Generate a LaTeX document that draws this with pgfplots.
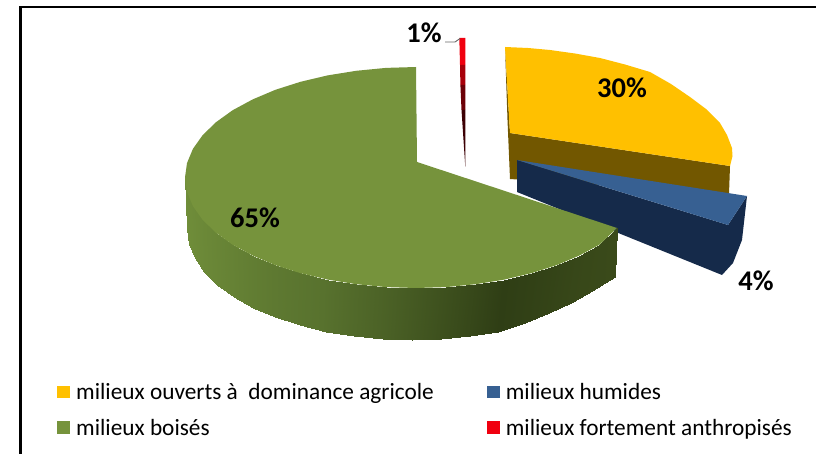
\documentclass[border=0pt]{standalone}
\usepackage{fontspec}
\setmainfont{Carlito}
\usepackage{pgfplots}
\pgfplotsset{compat=1.18}

\definecolor{yellowtop}{HTML}{FFC000}
\definecolor{yellowside}{HTML}{725700}
\definecolor{bluetop}{HTML}{376092}
\definecolor{blueside}{HTML}{152A4A}
\definecolor{greentop}{HTML}{76933C}
\definecolor{redtop}{HTML}{F0000F}

\begin{document}
\begin{tikzpicture}
\path[use as bounding box] (0,0) rectangle (816pt,454pt);
\begin{axis}[
    at={(0,0)}, anchor=south west,
    width=816pt, height=454pt,
    scale only axis,
    xmin=0, xmax=816,
    ymin=0, ymax=454,
    y dir=reverse,
    axis lines=none,
    clip=true,
    colormap={greenside}{rgb255(0pt)=(112,142,58) rgb255(45pt)=(88,114,46) rgb255(80pt)=(47,62,21) rgb255(100pt)=(58,74,26)},
    point meta min=0, point meta max=1,
    legend columns=2,
    legend cell align=left,
    legend style={
        at={(axis cs:57,382)}, anchor=north west,
        draw=none, fill=none,
        font=\fontsize{23.3}{26}\selectfont,
        inner sep=0pt,
        row sep=16pt,
        /tikz/column 2/.style={column sep=52pt},
        nodes={inner xsep=1pt, inner ysep=1pt},
    },
    legend image code/.code={
        \fill[#1] (0pt,-6pt) rectangle (13pt,6.5pt);
        \path (18pt,0pt);
    },
]

% yellow slice
\addplot[fill=yellowside, draw=none, forget plot] coordinates {
    (505,47)(510,133)(730,166)(729,194)(510,179)(507.5,120)
} -- cycle;
\addplot[fill=yellowtop, draw=none] coordinates {
    (505,47)(528,48)(550,50)(575,53.5)(600,58)(625,64.5)(650,72)(671,84)(690,97)(706,109)(720,123)(727,135)(732,148)(732.5,156)(730,166)(510,133)
} -- cycle;
\addlegendentry{milieux ouverts à \ dominance agricole}

% blue slice
\addplot[fill=blueside, draw=none, forget plot] coordinates {
    (517,160)(728,225)(747,196)(742,240)(733,263)(722,275)(517,192)
} -- cycle;
\addplot[fill=bluetop, draw=none] coordinates {
    (517,160)(747,196)(728,225)
} -- cycle;
\addlegendentry{milieux humides}

% green slice, side first
\addplot[surf, shader=interp, mesh/rows=2, point meta=explicit, forget plot]
    table[x=x, y=y, meta=c] {
x y c
185 177.5 0.00
187 191.9 0.02
192.9 206.1 0.05
202.6 219.8 0.09
216 232.8 0.14
232.7 244.8 0.20
252.7 255.6 0.27
275.4 265.2 0.34
300.5 273.2 0.40
327.6 279.6 0.46
356.2 284.2 0.51
385.9 287.1 0.56
416 288 0.62
446.1 287.1 0.68
475.8 284.2 0.74
504.4 279.6 0.80
531.5 273.2 0.85
556.6 265.2 0.90
579.3 255.6 0.95
599.3 244.8 0.98
617 228 1.00
187 229.5 0.00
189 243.9 0.02
194.7 258.1 0.05
204.1 271.8 0.09
217.1 284.8 0.14
233.5 296.8 0.20
252.9 307.6 0.27
275 317.2 0.34
299.5 325.2 0.40
325.9 331.6 0.46
353.8 336.2 0.51
382.6 339.1 0.56
412 340 0.62
441.4 339.1 0.68
470.2 336.2 0.74
498.1 331.6 0.80
524.5 323 0.85
549 313 0.90
571 303 0.95
592 291 0.98
615 277 1.00
};
\addplot[fill=greentop, draw=none] coordinates {
    (416,67)(385.9,67.9)(356.2,70.8)(327.6,75.4)(300.5,81.8)(275.4,89.8)(252.7,99.4)
    (232.7,110.2)(216,122.2)(202.6,135.2)(192.9,148.9)(187,163.1)(185,177.5)
    (187,191.9)(192.9,206.1)(202.6,219.8)(216,232.8)(232.7,244.8)(252.7,255.6)
    (275.4,265.2)(300.5,273.2)(327.6,279.6)(356.2,284.2)(385.9,287.1)(416,288)
    (446.1,287.1)(475.8,284.2)(504.4,279.6)(531.5,273.2)(556.6,265.2)(579.3,255.6)
    (599.3,244.8)(617,228)(417,162)
} -- cycle;
\addlegendentry{milieux boisés}

% red slice, darker towards the tip
\addplot[fill=redtop, draw=none] coordinates {
    (459.3,38)(465.3,38)(465.3,65)(460,65)
} -- cycle;
\addlegendentry{milieux fortement anthropisés}
\addplot[fill=redtop!70!black, draw=none, forget plot] coordinates {
    (460,65)(465.3,65)(465.3,85)(460.4,85)
} -- cycle;
\addplot[fill=redtop!45!black, draw=none, forget plot] coordinates {
    (460.4,85)(465.3,85)(465.3,110)(461.5,110)
} -- cycle;
\addplot[fill=redtop!25!black, draw=none, forget plot] coordinates {
    (461.5,110)(465.3,110)(465.3,167)
} -- cycle;

% leader
\addplot[color=black!60, line width=0.9pt, forget plot] coordinates {
    (445,42)(455,42)(460,38.5)
};

% frame
\addplot[color=black, line width=2.5pt, forget plot] coordinates {
    (20.5,454)(20.5,7)(816,7)
};

\node[font=\fontsize{28.5}{30}\selectfont\bfseries] at (axis cs:424,33) {1\%};
\node[font=\fontsize{28.5}{30}\selectfont\bfseries] at (axis cs:622,88) {30\%};
\node[font=\fontsize{28.5}{30}\selectfont\bfseries] at (axis cs:255,218) {65\%};
\node[font=\fontsize{28.5}{30}\selectfont\bfseries] at (axis cs:756,281) {4\%};
\end{axis}
\end{tikzpicture}
\end{document}
